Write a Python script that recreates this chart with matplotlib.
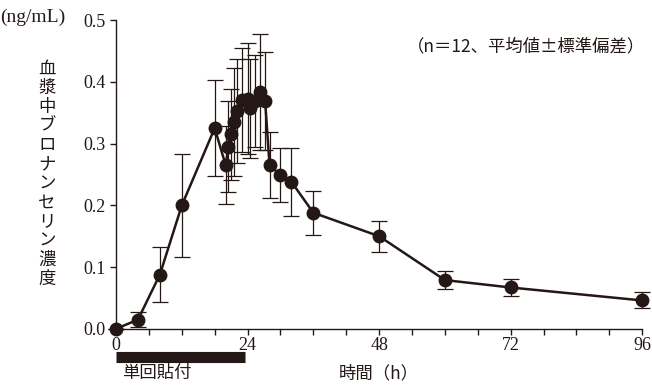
import matplotlib
matplotlib.use('Agg')
import numpy as np
import matplotlib.pyplot as plt

# 時間 (h)
times = [0, 4, 8, 12, 18, 20, 20.5, 21, 21.5, 22, 23, 24, 24.5, 25.3, 26.3, 27.2, 28, 30, 32, 36, 48, 60, 72, 96]
# 平均値 (ng/mL)
means = [0.000, 0.015, 0.088, 0.200, 0.325, 0.265, 0.295, 0.315, 0.335, 0.353, 0.370, 0.373,
         0.357, 0.369, 0.383, 0.369, 0.265, 0.249, 0.238, 0.188, 0.150, 0.079, 0.067, 0.046]
# 標準偏差
sds = [0.000, 0.012, 0.045, 0.083, 0.078, 0.063, 0.074, 0.074, 0.087, 0.084, 0.084, 0.090,
       0.080, 0.075, 0.094, 0.080, 0.053, 0.044, 0.055, 0.036, 0.025, 0.014, 0.014, 0.013]

xticks = [0, 24, 48, 72, 96]
yticks = [0.0, 0.1, 0.2, 0.3, 0.4, 0.5]
patch_period = [0, 23.5]

ink = '#231815'
serif = ['Liberation Serif', 'Noto Sans CJK JP']
jp = ['Noto Sans CJK JP', 'DejaVu Sans']

fig = plt.figure(figsize=(6.52, 3.86), dpi=100)
ax = fig.add_axes([0.178, 0.148, 0.807, 0.800])

ax.errorbar(times, means, yerr=sds, fmt='none', ecolor=ink, elinewidth=0.9,
            capsize=6, capthick=0.9, zorder=2, clip_on=False)
ax.plot(times, means, '-o', color=ink, lw=1.8, ms=9, zorder=3, clip_on=False)

ax.set_xlim(0, 96)
ax.set_ylim(0, 0.5)
ax.spines['top'].set_visible(False)
ax.spines['right'].set_visible(False)
for s in ['left', 'bottom']:
    ax.spines[s].set_color(ink)
    ax.spines[s].set_linewidth(1.0)

ax.set_xticks(xticks)
ax.set_xticks(np.arange(0, 97, 6), minor=True)
ax.set_yticks(yticks)
ax.set_yticklabels([f'{v:.1f}' for v in yticks])
ax.tick_params(axis='both', which='both', direction='out', color=ink, length=4, width=1.0,
               labelcolor=ink, labelsize=13)
ax.tick_params(axis='x', pad=2)
for lab in ax.get_xticklabels() + ax.get_yticklabels():
    lab.set_family(serif)

# patch period bar
ax.plot(patch_period, [-0.046, -0.046], color=ink, lw=8, solid_capstyle='butt', clip_on=False)
ax.text(1, -0.072, '単回貼付', family=jp, fontsize=12.5, color=ink, ha='left', va='center')
ax.text(48, -0.072, '時間（h）', family=jp, fontsize=12.5, color=ink, ha='center', va='center')

fig.text(0.0, 0.955, '(ng/mL)', family=serif, fontsize=14, color=ink, ha='left', va='center')
fig.text(0.072, 0.55, '\n'.join('血漿中ブロナンセリン濃度'), family=jp, fontsize=12.5,
         color=ink, ha='center', va='center', linespacing=1.08)
ax.text(1.005, 0.915, '（n＝12、平均値±標準偏差）', transform=ax.transAxes, family=jp,
        fontsize=12.5, color=ink, ha='right', va='center')

fig.savefig('out.png', dpi=100)
